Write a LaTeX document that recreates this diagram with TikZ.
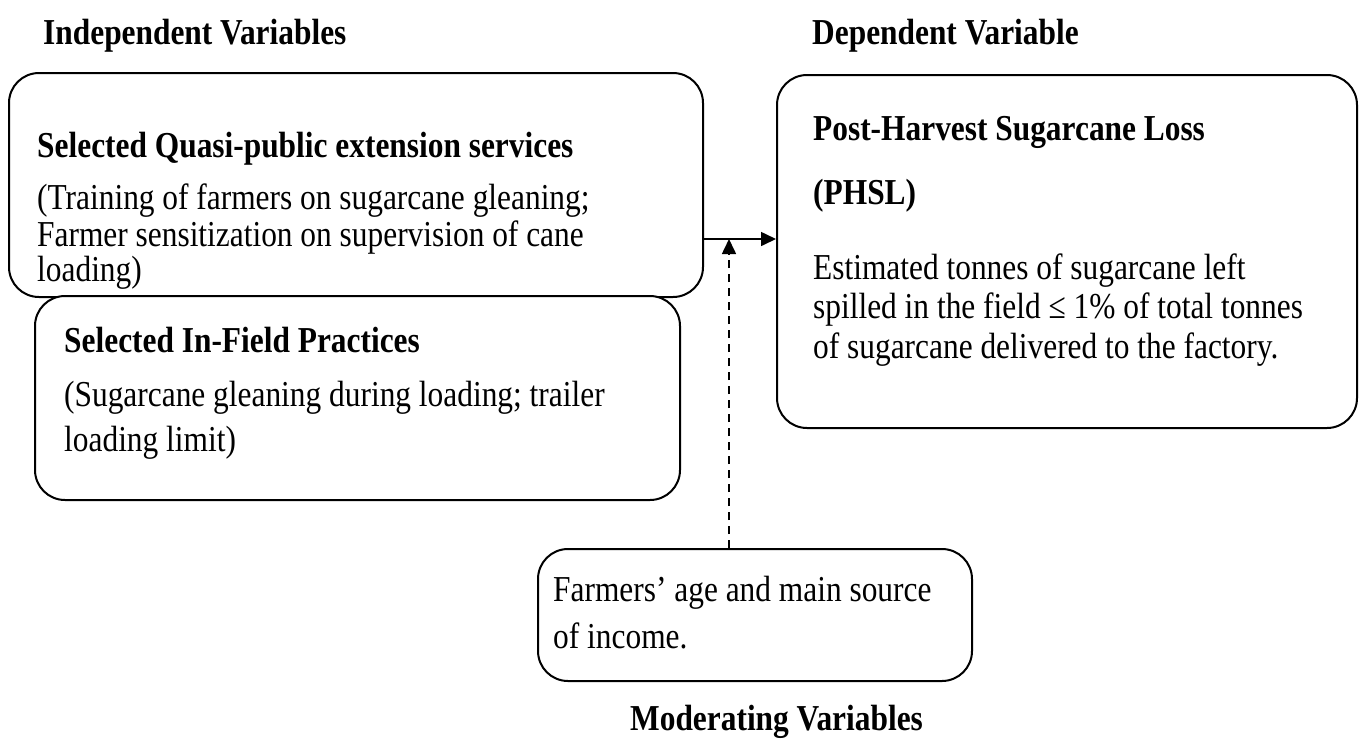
\documentclass[tikz,border=0pt]{standalone}
\usepackage{fontspec}
\setmainfont[FakeStretch=0.86]{Liberation Serif}
\usetikzlibrary{arrows.meta}
\tikzset{
  box/.style={draw, line width=2pt, rounded corners=30pt, fill=white, inner sep=0pt},
  txt/.style={anchor=base west, inner sep=0pt, font=\fontsize{36.5}{40}\selectfont},
  btxt/.style={txt, font=\fontsize{36.5}{40}\selectfont\bfseries},
  conn/.style={line width=1.6pt, -{Triangle[length=15pt,width=14pt]}},
}
\begin{document}
\begin{tikzpicture}[x=1pt,y=-1pt]
\useasboundingbox (0,0) rectangle (1363,740);
% headings
\node[btxt] (h1) at (43,44) {Independent Variables};
\node[btxt] (h2) at (812,44) {Dependent Variable};
\node[btxt] (h3) at (630,730) {Moderating Variables};
% boxes
\node[box, minimum width=694pt, minimum height=224pt] (b1) at (356,185) {};
\node[box, minimum width=645pt, minimum height=204pt] (b2) at (357.5,398) {};
\node[box, minimum width=580pt, minimum height=353pt] (b3) at (1067,251.5) {};
\node[box, minimum width=434pt, minimum height=132pt] (b4) at (755,615) {};
% texts box1
\node[btxt] (t11) at (37,157) {Selected Quasi-public extension services};
\node[txt] (t12) at (37,209) {(Training of farmers on sugarcane gleaning;};
\node[txt] (t13) at (37,246) {Farmer sensitization on supervision of cane};
\node[txt] (t14) at (37,281) {loading)};
% texts box2
\node[btxt] (t21) at (64,352) {Selected In-Field Practices};
\node[txt] (t22) at (64,406) {(Sugarcane gleaning during loading; trailer};
\node[txt] (t23) at (64,451) {loading limit)};
% texts box3
\node[btxt] (t31) at (813,140) {Post-Harvest Sugarcane Loss};
\node[btxt] (t32) at (813,204) {(PHSL)};
\node[txt] (t33) at (813,279) {Estimated tonnes of sugarcane left};
\node[txt] (t34) at (813,318) {spilled in the field ≤ 1\% of total tonnes};
\node[txt] (t35) at (813,358) {of sugarcane delivered to the factory.};
% texts box4
\node[txt] (t41) at (553,601) {Farmers’ age and main source};
\node[txt] (t42) at (553,648) {of income.};
% connectors
\coordinate (j) at (729,239);
\draw[conn] (b1.east |- j) -- (b3.west |- j);
\draw[conn, dash pattern=on 8pt off 6pt] (b4.north -| j) -- (j);
\end{tikzpicture}
\end{document}
